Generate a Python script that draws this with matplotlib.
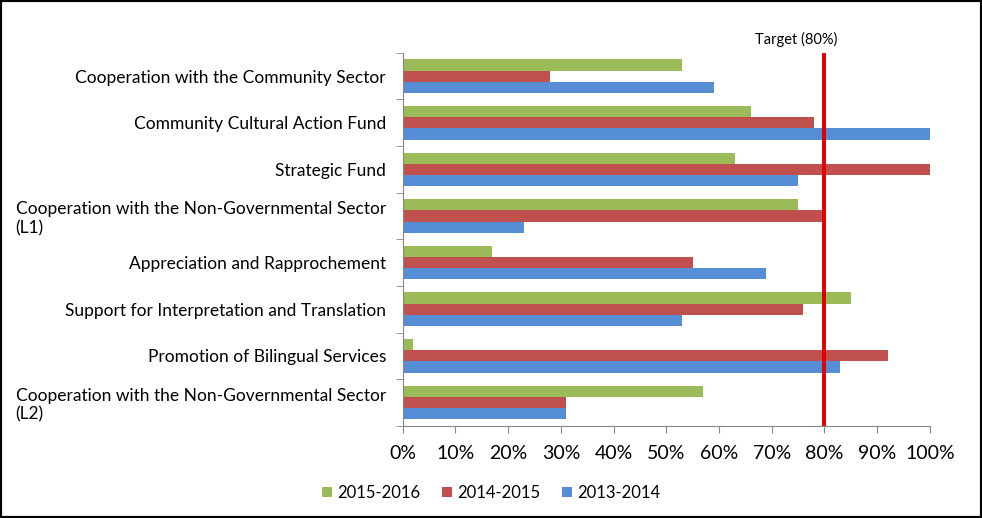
import matplotlib.pyplot as plt
import numpy as np

plt.rcParams['font.family'] = ['Lato', 'DejaVu Sans']

categories = ['Cooperation with the Community Sector',
              'Community Cultural Action Fund',
              'Strategic Fund',
              'Cooperation with the Non-Governmental Sector\n(L1)',
              'Appreciation and Rapprochement',
              'Support for Interpretation and Translation',
              'Promotion of Bilingual Services',
              'Cooperation with the Non-Governmental Sector\n(L2)']
s2015 = [53, 66, 63, 75, 17, 85, 2, 57]
s2014 = [28, 78, 100, 80, 55, 76, 92, 31]
s2013 = [59, 100, 75, 23, 69, 53, 83, 31]
target = 80

green = '#9BBB59'
red = '#C0504D'
blue = '#558ED5'

fig = plt.figure(figsize=(9.82, 5.18), dpi=100)
ax = fig.add_axes([0.41, 0.178, 0.537, 0.72])

y = np.arange(len(categories))
h = 0.24
ax.barh(y - h, s2015, height=h, color=green, label='2015-2016')
ax.barh(y, s2014, height=h, color=red, label='2014-2015')
ax.barh(y + h, s2013, height=h, color=blue, label='2013-2014')

ax.axvline(target, color='#E00000', lw=2.8)
ax.text(target - 5.3, -0.62, 'Target (80%)', ha='center', va='bottom', fontsize=10.5)

ax.set_xlim(0, 100)
ax.set_ylim(len(categories) - 0.5, -0.5)
ax.set_xticks(np.arange(0, 101, 10))
ax.set_xticklabels([f'{v}%' for v in range(0, 101, 10)], fontsize=14)

ax.set_yticks(y)
ax.set_yticklabels(categories, fontsize=12.5)
for t in ax.get_yticklabels():
    t.set_multialignment('left')
ax.set_yticks(np.arange(-0.5, len(categories)), minor=True)
ax.tick_params(axis='y', which='major', length=0, pad=12)
ax.tick_params(axis='y', which='minor', length=5, color='#868686')
ax.tick_params(axis='x', length=5, color='#868686', pad=9)

for s in ['top', 'right']:
    ax.spines[s].set_visible(False)
for s in ['left', 'bottom']:
    ax.spines[s].set_color('#868686')

ax.legend(loc='upper center', bbox_to_anchor=(0.168, -0.118), ncol=3, frameon=False,
          fontsize=12, handlelength=0.6, handleheight=0.6, columnspacing=1.3,
          handletextpad=0.3)

fig.patches.append(plt.Rectangle((0, 0), 1, 1, transform=fig.transFigure,
                                 fill=False, edgecolor='black', lw=3))

fig.savefig('out.png', dpi=100)
